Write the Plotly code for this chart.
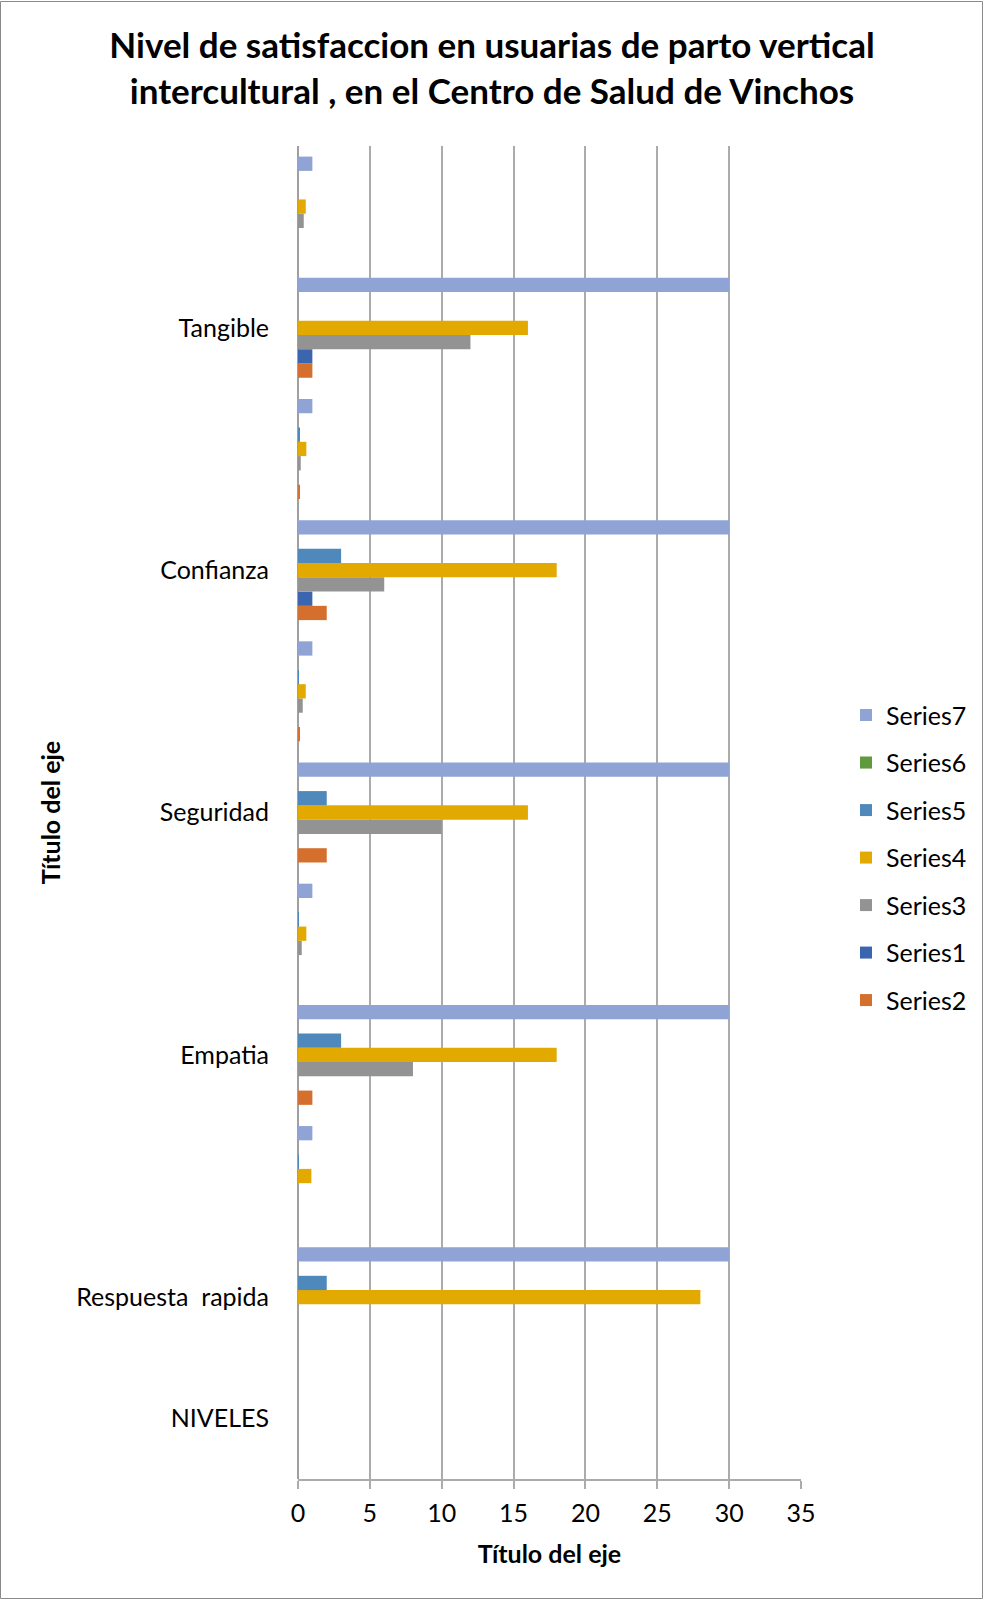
import plotly.graph_objects as go

# Category rows, bottom to top (blank rows carry the percentage sub-rows)
categories = ["NIVELES", "Respuesta  rapida", "", "Empatia", "", "Seguridad", "",
              "Confianza", "", "Tangible", ""]

series_names = ["Series2", "Series1", "Series3", "Series4", "Series5", "Series6", "Series7"]
series2 = [0, 0, 0, 1, 0, 2, 0.07, 2, 0.07, 1, 0]
series1 = [0, 0, 0, 0, 0, 0, 0, 1, 0, 1, 0]
series3 = [0, 0, 0, 8, 0.26, 10, 0.33, 6, 0.19, 12, 0.4]
series4 = [0, 28, 0.93, 18, 0.58, 16, 0.54, 18, 0.58, 16, 0.54]
series5 = [0, 2, 0.05, 3, 0.05, 2, 0.05, 3, 0.1, 0, 0]
series6 = [0, 0, 0, 0, 0, 0, 0, 0, 0, 0, 0]
series7 = [0, 30, 1, 30, 1, 30, 1, 30, 1, 30, 1]

x_ticks = [0, 5, 10, 15, 20, 25, 30, 35]

values = [series2, series1, series3, series4, series5, series6, series7]
colors = ["#D46F2D", "#3C65B0", "#939393", "#E2AA00", "#4F89BC", "#609A3F", "#8FA3D4"]

FONT = "Lato"
FS = 25
W, H = 984, 1600
L, R, T, B = 298, 183, 146, 121

row_pos = list(range(len(categories)))

fig = go.Figure()
n = len(series_names)
for i, (name, vals, col) in enumerate(zip(series_names, values, colors)):
    fig.add_trace(go.Bar(
        y=row_pos, x=vals, name=name, orientation="h",
        marker=dict(color=col, line=dict(width=0)),
        legendgroup=name, legendrank=n - i,
    ))

pw = W - L - R
ph = H - T - B
# thin frame around the whole chart
fig.add_shape(type="rect", xref="paper", yref="paper",
              x0=-(L - 0.5) / pw, x1=1 + (R - 1.5) / pw,
              y0=-(B - 1.5) / ph, y1=1 + (T - 1.5) / ph,
              line=dict(color="#8A8A8A", width=1), fillcolor="rgba(0,0,0,0)",
              layer="below")

fig.update_layout(
    width=W, height=H,
    margin=dict(l=L, r=R, t=T, b=B, autoexpand=False),
    paper_bgcolor="white", plot_bgcolor="white",
    barmode="group", bargap=0.175, bargroupgap=0,
    font=dict(family=FONT, color="#000000", size=FS),
    title=dict(
        text="<b>Nivel de satisfaccion en usuarias de parto vertical<br>"
             "intercultural , en el Centro de Salud de Vinchos</b>",
        x=0.5, xanchor="center", y=1 - 58 / H, yanchor="middle",
        font=dict(family=FONT, size=35, color="#000000"),
    ),
    legend=dict(
        traceorder="grouped", tracegroupgap=12,
        x=1 + 45 / pw, xanchor="left", y=0.466, yanchor="middle",
        font=dict(family=FONT, size=FS, color="#000000"),
        itemwidth=30, bgcolor="rgba(0,0,0,0)",
    ),
    xaxis=dict(
        range=[0, 35], tickvals=x_ticks, showgrid=True,
        gridcolor="#ABABAB", gridwidth=2,
        zeroline=True, zerolinecolor="#A0A0A0", zerolinewidth=2,
        showline=True, linecolor="#ABABAB", linewidth=2,
        ticks="outside", ticklen=8, tickwidth=2, tickcolor="#ABABAB",
        ticklabelstandoff=3,
        tickfont=dict(family=FONT, size=FS, color="#000000"),
        title=dict(text="<b>Título del eje</b>", standoff=19,
                   font=dict(family=FONT, size=FS, color="#000000")),
    ),
    yaxis=dict(
        range=[-0.5, len(categories) - 0.5], tickvals=row_pos, ticktext=categories,
        showgrid=False, zeroline=False, showline=False, ticks="",
        ticklabelstandoff=28,
        tickfont=dict(family=FONT, size=FS, color="#000000"),
        title=dict(text="<b>Título del eje</b>", standoff=8,
                   font=dict(family=FONT, size=FS, color="#000000")),
    ),
)

fig.write_html("out.html")
